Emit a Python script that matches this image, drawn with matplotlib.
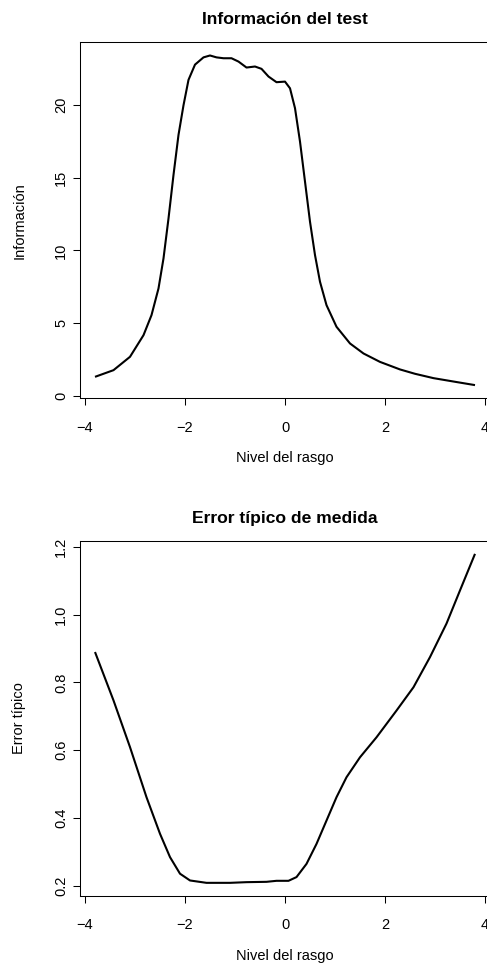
import numpy as np
import matplotlib
matplotlib.use("Agg")
import matplotlib.pyplot as plt

plt.rcParams["font.family"] = ["Liberation Sans", "DejaVu Sans"]

# Curva de información del test (nivel del rasgo -> información)
theta_info = [-3.8, -3.43, -3.1, -2.83, -2.67, -2.53, -2.43, -2.33, -2.23, -2.13,
              -2.03, -1.93, -1.8, -1.63, -1.5, -1.37, -1.23, -1.07, -0.93, -0.77,
              -0.6, -0.47, -0.33, -0.17, 0.0, 0.1, 0.2, 0.3, 0.4, 0.5,
              0.6, 0.7, 0.83, 1.03, 1.3, 1.57, 1.9, 2.3, 2.6, 2.97, 3.4, 3.8]
info = [1.29, 1.75, 2.67, 4.16, 5.54, 7.38, 9.45, 12.2, 15.2, 17.96,
        20.0, 21.75, 22.8, 23.3, 23.43, 23.3, 23.24, 23.24, 23.01, 22.6,
        22.67, 22.51, 21.98, 21.59, 21.63, 21.17, 19.8, 17.5, 14.74, 11.98,
        9.68, 7.84, 6.23, 4.74, 3.59, 2.9, 2.32, 1.8, 1.5, 1.2, 0.95, 0.72]

# Curva del error típico de medida
theta_se = [-3.8, -3.43, -3.1, -2.77, -2.5, -2.3, -2.1, -1.9, -1.57, -1.1,
            -0.77, -0.37, -0.17, 0.07, 0.23, 0.43, 0.63, 0.83, 1.03, 1.23,
            1.5, 1.83, 2.23, 2.57, 2.9, 3.23, 3.5, 3.8]
se = [0.890, 0.747, 0.609, 0.461, 0.353, 0.284, 0.235, 0.215, 0.208, 0.208,
      0.210, 0.211, 0.214, 0.214, 0.225, 0.264, 0.323, 0.392, 0.461, 0.520,
      0.579, 0.638, 0.717, 0.786, 0.875, 0.974, 1.072, 1.18]

info_ticks = [0, 5, 10, 15, 20]
se_ticks = [0.2, 0.4, 0.6, 0.8, 1.0, 1.2]
x_ticks = [-4, -2, 0, 2, 4]

W, H = 487, 968
fig = plt.figure(figsize=(W / 100, H / 100), dpi=100)


def r_lim(vals):
    # rango al estilo de R: 4% extra a cada lado
    lo, hi = min(vals), max(vals)
    d = (hi - lo) * 0.04
    return lo - d, hi + d


def panel(rect, x, y, yticks, ylabels, title, ylabel):
    ax = fig.add_axes(rect)
    ax.plot(x, y, color="black", lw=1.5, solid_capstyle="butt", solid_joinstyle="round")
    ax.set_xlim(*r_lim(x))
    ax.set_ylim(*r_lim(y))
    ax.set_xticks(x_ticks)
    ax.set_xticklabels([str(v).replace("-", "\u2212") for v in x_ticks])
    ax.set_yticks(yticks)
    ax.set_yticklabels(ylabels, rotation=90, va="center")
    ax.tick_params(direction="out", length=5, width=0.75, labelsize=10.5, colors="black")
    ax.tick_params(axis="x", pad=11)
    ax.tick_params(axis="y", pad=3.5)
    for s in ax.spines.values():
        s.set_linewidth(0.75)
    ax.set_title(title, fontsize=12.6, fontweight="bold", pad=13)
    ax.set_xlabel("Nivel del rasgo", fontsize=10.5, labelpad=12)
    ax.set_ylabel(ylabel, fontsize=10.5, labelpad=20)
    return ax


left = 79.8 / W
width = (490.2 - 79.8) / W

panel([left, 1 - 398.3 / H, width, (398.3 - 42.3) / H],
      theta_info, info, info_ticks, [str(v) for v in info_ticks],
      "Información del test", "Información")

panel([left, 1 - 896 / H, width, (896 - 540.7) / H],
      theta_se, se, se_ticks, ["%.1f" % v for v in se_ticks],
      "Error típico de medida", "Error típico")

fig.savefig("out.png", dpi=100)
